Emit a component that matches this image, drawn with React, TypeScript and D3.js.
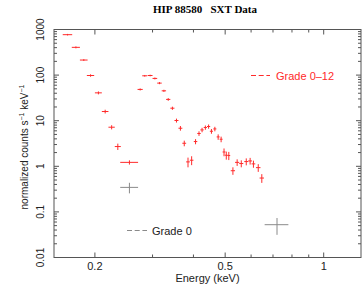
import React from "react";
import * as d3 from "d3";

// Grade 0-12 spectrum (red)
const energy = [
  0.165, 0.175, 0.185, 0.194, 0.205, 0.215, 0.225, 0.235, 0.255, 0.275, 0.284,
  0.295, 0.305, 0.315, 0.325, 0.335, 0.345, 0.355, 0.365, 0.375, 0.385, 0.395,
  0.406, 0.416, 0.425, 0.435, 0.445, 0.454, 0.465, 0.476, 0.486, 0.496, 0.504,
  0.513, 0.528, 0.544, 0.56, 0.58, 0.596, 0.61, 0.631, 0.647,
];
const energyHalf = [
  0.0055, 0.005, 0.005, 0.005, 0.005, 0.005, 0.005, 0.005, 0.016, 0.005, 0.005,
  0.005, 0.005, 0.005, 0.005, 0.005, 0.005, 0.005, 0.005, 0.005, 0.005, 0.005,
  0.005, 0.005, 0.005, 0.005, 0.005, 0.005, 0.005, 0.005, 0.005, 0.005, 0.005,
  0.005, 0.008, 0.008, 0.008, 0.008, 0.008, 0.008, 0.01, 0.01,
];
const rate = [
  770, 406, 214, 98, 40.8, 15.9, 7.2, 2.71, 1.22, 48.5, 96.6, 98, 84.5, 66.7,
  45.2, 29.3, 18.8, 10.1, 6.84, 3.2, 1.25, 1.36, 3.49, 5.24, 6.28, 7.08, 7.46,
  5.87, 6.6, 4.41, 3.92, 2.06, 1.75, 1.72, 0.8, 1.22, 1.15, 1.27, 1.31, 1.13,
  0.935, 0.553,
];
const rateErr = [
  30, 20, 10, 6, 3, 1.5, 0.75, 0.43, 0.13, 2.5, 4, 4, 4, 3.5, 2.5, 2, 1.5, 1,
  0.8, 0.45, 0.3, 0.3, 0.45, 0.6, 0.7, 0.75, 0.8, 0.7, 0.75, 0.6, 0.55, 0.4,
  0.35, 0.35, 0.15, 0.2, 0.2, 0.22, 0.22, 0.2, 0.18, 0.12,
];

// Grade 0 spectrum (gray)
const energy0 = [0.255, 0.72];
const energyHalf0 = [0.016, 0.06];
const rate0 = [0.345, 0.0524];
const rateErr0 = [0.09, 0.021];

const xTicksLabeled = [0.2, 0.5, 1];
const xTicksMinor = [0.3, 0.4, 0.6, 0.7, 0.8, 0.9];
const yDecades = [0.01, 0.1, 1, 10, 100, 1000];
const yDecadeLabels = ["0.01", "0.1", "1", "10", "100", "1000"];

const W = 362;
const H = 285;
const L = 54;
const R = 361;
const T = 29.5;
const B = 257.5;

const RED = "#ff2a2a";
const GRAY = "#8a8a8a";
const AXIS = "#555";
const SANS = "'Liberation Sans', Arial, Helvetica, sans-serif";

export default function App() {
  const x = d3.scaleLog().domain([0.15, 1.3]).range([L, R]);
  const y = d3.scaleLog().domain([0.01, 1000]).range([B, T]);

  const yMinor: number[] = [];
  yDecades.slice(0, -1).forEach((d) => {
    for (let k = 2; k <= 9; k++) yMinor.push(d * k);
  });

  const crosses = (
    es: number[],
    de: number[],
    vs: number[],
    dv: number[],
    color: string,
    key: string
  ) =>
    es.map((e, i) => {
      const cx = x(e);
      const cy = y(vs[i]);
      const lo = Math.max(vs[i] - dv[i], 1e-4);
      return (
        <g key={key + i} stroke={color} strokeWidth={1}>
          <line x1={x(e - de[i])} x2={x(e + de[i])} y1={cy} y2={cy} />
          <line x1={cx} x2={cx} y1={y(lo)} y2={y(vs[i] + dv[i])} />
        </g>
      );
    });

  return (
    <svg
      width={W}
      height={H}
      style={{ position: "fixed", left: 0, top: 0, background: "#fff" }}
    >
      <text
        x={205}
        y={13}
        textAnchor="middle"
        fontFamily="'Liberation Serif', 'Times New Roman', serif"
        fontWeight="bold"
        fontSize={11}
        style={{ whiteSpace: "pre" }}
      >
        {"HIP 88580   SXT Data"}
      </text>

      {/* frame */}
      <rect
        x={L}
        y={T}
        width={R - L}
        height={B - T}
        fill="none"
        stroke={AXIS}
        strokeWidth={1}
      />

      {/* y ticks, left and right, inside */}
      {yDecades.map((d) => (
        <g key={"yd" + d} stroke={AXIS}>
          <line x1={L} x2={L + 5} y1={y(d)} y2={y(d)} />
          <line x1={R} x2={R - 5} y1={y(d)} y2={y(d)} />
        </g>
      ))}
      {yMinor.map((d) => (
        <g key={"ym" + d} stroke={AXIS}>
          <line x1={L} x2={L + 3} y1={y(d)} y2={y(d)} />
          <line x1={R} x2={R - 3} y1={y(d)} y2={y(d)} />
        </g>
      ))}
      {yDecades.map((d, i) => (
        <text
          key={"yl" + d}
          transform={`translate(44,${y(d)}) rotate(-90)`}
          textAnchor="middle"
          fontFamily={SANS}
          fontSize={10}
          fill="#222"
        >
          {yDecadeLabels[i]}
        </text>
      ))}

      {/* x ticks, bottom and top, inside */}
      {xTicksLabeled.map((d) => (
        <g key={"xd" + d} stroke={AXIS}>
          <line x1={x(d)} x2={x(d)} y1={B} y2={B - 5} />
          <line x1={x(d)} x2={x(d)} y1={T} y2={T + 5} />
        </g>
      ))}
      {xTicksMinor.map((d) => (
        <g key={"xm" + d} stroke={AXIS}>
          <line x1={x(d)} x2={x(d)} y1={B} y2={B - 3} />
          <line x1={x(d)} x2={x(d)} y1={T} y2={T + 3} />
        </g>
      ))}
      {xTicksLabeled.map((d) => (
        <text
          key={"xl" + d}
          x={x(d)}
          y={270}
          textAnchor="middle"
          fontFamily={SANS}
          fontSize={11}
          fill="#222"
        >
          {String(d)}
        </text>
      ))}

      <text
        x={(L + R) / 2}
        y={282}
        textAnchor="middle"
        fontFamily={SANS}
        fontSize={11}
        fill="#222"
      >
        Energy (keV)
      </text>

      <text
        transform={`translate(28,147) rotate(-90)`}
        textAnchor="middle"
        fontFamily={SANS}
        fontSize={10}
        fill="#222"
      >
        normalized counts s
        <tspan fontSize={7} dy={-4}>
          −1
        </tspan>
        <tspan dy={4}> keV</tspan>
        <tspan fontSize={7} dy={-4}>
          −1
        </tspan>
      </text>

      {/* data */}
      {crosses(energy, energyHalf, rate, rateErr, RED, "r")}
      {crosses(energy0, energyHalf0, rate0, rateErr0, GRAY, "g")}

      {/* legends */}
      <line
        x1={251}
        x2={270}
        y1={75.5}
        y2={75.5}
        stroke={RED}
        strokeDasharray="5,2.7"
      />
      <text x={276} y={79.5} fontFamily={SANS} fontSize={11} fill={RED}>
        Grade 0–12
      </text>
      <line
        x1={127}
        x2={147}
        y1={230.5}
        y2={230.5}
        stroke={GRAY}
        strokeDasharray="5,2.7"
      />
      <text x={152} y={234.5} fontFamily={SANS} fontSize={11} fill="#222">
        Grade 0
      </text>
    </svg>
  );
}
